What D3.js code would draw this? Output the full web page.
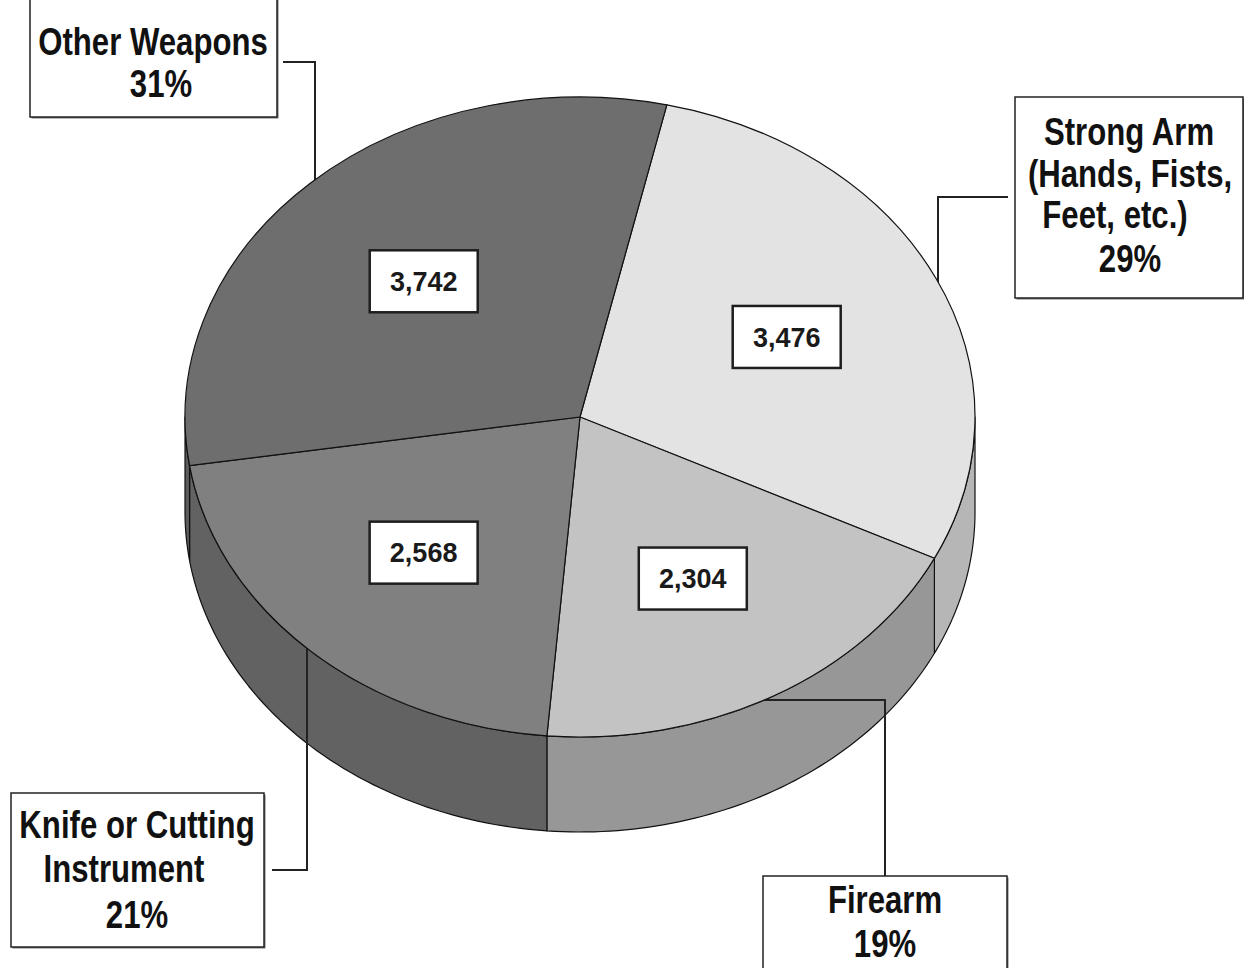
<!DOCTYPE html>
<html lang="en">
<head>
    <meta charset="UTF-8">
    <title>Weapons</title>
</head>
<style>
    body { margin: 0; background: #fff; }
    .edge { stroke: #111; stroke-width: 1.2px; }
    .leader { fill: none; stroke: #222; stroke-width: 2px; }
    .lbl { font-family: "Liberation Sans", Arial, sans-serif; font-weight: bold; font-size: 38px; fill: #111; }
    .val { font-family: "Liberation Sans", Arial, sans-serif; font-weight: bold; font-size: 27px; fill: #1a1a1a; }
</style>
<body>
<svg width="1244" height="968"></svg>
<script src="https://d3js.org/d3.v7.min.js"></script>
<script>
    // data, in drawing order (clockwise from the top)
    var categories = ["Strong Arm", "Firearm", "Knife or Cutting Instrument", "Other Weapons"];
    var counts = [3476, 2304, 2568, 3742];
    var percents = ["29%", "19%", "21%", "31%"];
    var valueLabels = ["3,476", "2,304", "2,568", "3,742"];
    var labelLines = [
        ["Strong Arm", "(Hands, Fists,", "Feet, etc.)", "29%"],
        ["Firearm", "19%"],
        ["Knife or Cutting", "Instrument", "21%"],
        ["Other Weapons", "31%"]
    ];
    var topColors = ["#e3e3e3", "#c3c3c3", "#808080", "#6e6e6e"];
    var sideColors = ["#b6b6b6", "#979797", "#626262", "#5c5c5c"];

    var svg = d3.select("svg"),
        cx = 580, cy = 417, rx = 395, ry = 320, depth = 95,
        condense = 0.82;

    // callout boxes: box, line centres/baselines, leader path
    var callouts = [
        {box: [1015, 97, 228, 201], lines: [[1129, 145], [1130, 187], [1115, 228], [1130, 272]],
            leader: [[1008, 197], [938, 197], [938, 300]]},
        {box: [763, 876, 244, 100], lines: [[885, 913], [885, 957]],
            leader: [[885, 876], [885, 700], [760, 700]]},
        {box: [11, 793, 253, 154], lines: [[137, 838], [124, 882], [137, 928]],
            leader: [[272, 870], [307, 870], [307, 640]]},
        {box: [30, -5, 247, 122], lines: [[153, 55], [161, 97]],
            leader: [[283, 62], [315, 62], [315, 190]]}
    ];

    var pie = d3.pie().sort(null)
        .startAngle(12.7 * Math.PI / 180)
        .endAngle(12.7 * Math.PI / 180 + 2 * Math.PI);
    var arcs = pie(counts);

    function px(a) { return cx + rx * Math.sin(a); }
    function py(a) { return cy - ry * Math.cos(a); }

    // side walls: only the front half (pi/2 .. 3pi/2) shows
    var line = d3.line();
    arcs.forEach(function (d, i) {
        var ranges = [];
        [0, 2 * Math.PI].forEach(function (off) {
            var lo = Math.max(d.startAngle, Math.PI / 2 + off),
                hi = Math.min(d.endAngle, 3 * Math.PI / 2 + off);
            if (hi > lo) ranges.push([lo, hi]);
        });
        ranges.forEach(function (r) {
            var n = 60, pts = [], k;
            for (k = 0; k <= n; k++) {
                var a = r[0] + (r[1] - r[0]) * k / n;
                pts.push([px(a), py(a)]);
            }
            for (k = n; k >= 0; k--) {
                var b = r[0] + (r[1] - r[0]) * k / n;
                pts.push([px(b), py(b) + depth]);
            }
            svg.append("path")
                .attr("class", "edge")
                .attr("fill", sideColors[i])
                .attr("stroke-linejoin", "round")
                .attr("d", line(pts) + "Z");
        });
    });

    // leader lines sit on the walls but under the top face
    svg.selectAll(".leader")
        .data(callouts)
        .enter().append("path")
        .attr("class", "leader")
        .attr("d", function (d) { return line(d.leader); });

    // top face: a circle arc squashed to an ellipse
    var arc = d3.arc().innerRadius(0).outerRadius(rx);
    var topG = svg.append("g")
        .attr("transform", "translate(" + cx + "," + cy + ") scale(1," + (ry / rx) + ")");
    topG.selectAll("path")
        .data(arcs)
        .enter().append("path")
        .attr("class", "edge")
        .attr("vector-effect", "non-scaling-stroke")
        .attr("fill", function (d, i) { return topColors[i]; })
        .attr("d", arc);

    // value boxes at 58% of the radius along the mid angle
    var vals = svg.selectAll(".vbox")
        .data(arcs)
        .enter().append("g")
        .attr("class", "vbox")
        .attr("transform", function (d) {
            var m = (d.startAngle + d.endAngle) / 2;
            return "translate(" + (cx + 0.58 * rx * Math.sin(m)) + "," + (cy - 0.58 * ry * Math.cos(m)) + ")";
        });
    vals.append("rect")
        .attr("x", -54).attr("y", -31)
        .attr("width", 108).attr("height", 62)
        .attr("fill", "#fff")
        .attr("stroke", "#1e1e1e")
        .attr("stroke-width", 2.5);
    vals.append("text")
        .attr("class", "val")
        .attr("text-anchor", "middle")
        .attr("dy", "0.36em")
        .text(function (d, i) { return valueLabels[i]; });

    // callouts
    var co = svg.selectAll(".callout")
        .data(callouts)
        .enter().append("g")
        .attr("class", "callout");
    co.append("rect")
        .attr("x", function (d) { return d.box[0] + 1.5; })
        .attr("y", function (d) { return d.box[1] + 1.5; })
        .attr("width", function (d) { return d.box[2]; })
        .attr("height", function (d) { return d.box[3]; })
        .attr("fill", "#777");
    co.append("rect")
        .attr("x", function (d) { return d.box[0]; })
        .attr("y", function (d) { return d.box[1]; })
        .attr("width", function (d) { return d.box[2]; })
        .attr("height", function (d) { return d.box[3]; })
        .attr("fill", "#fff")
        .attr("stroke", "#222")
        .attr("stroke-width", 1.5);
    co.each(function (d, i) {
        d3.select(this).selectAll("text")
            .data(labelLines[i])
            .enter().append("text")
            .attr("class", "lbl")
            .attr("text-anchor", "middle")
            // no narrow face installed, so squeeze the glyphs sideways
            .attr("transform", function (t, j) {
                return "translate(" + d.lines[j][0] + "," + d.lines[j][1] + ") scale(" + condense + ",1)";
            })
            .text(function (t) { return t; });
    });
</script>
</body>
</html>
